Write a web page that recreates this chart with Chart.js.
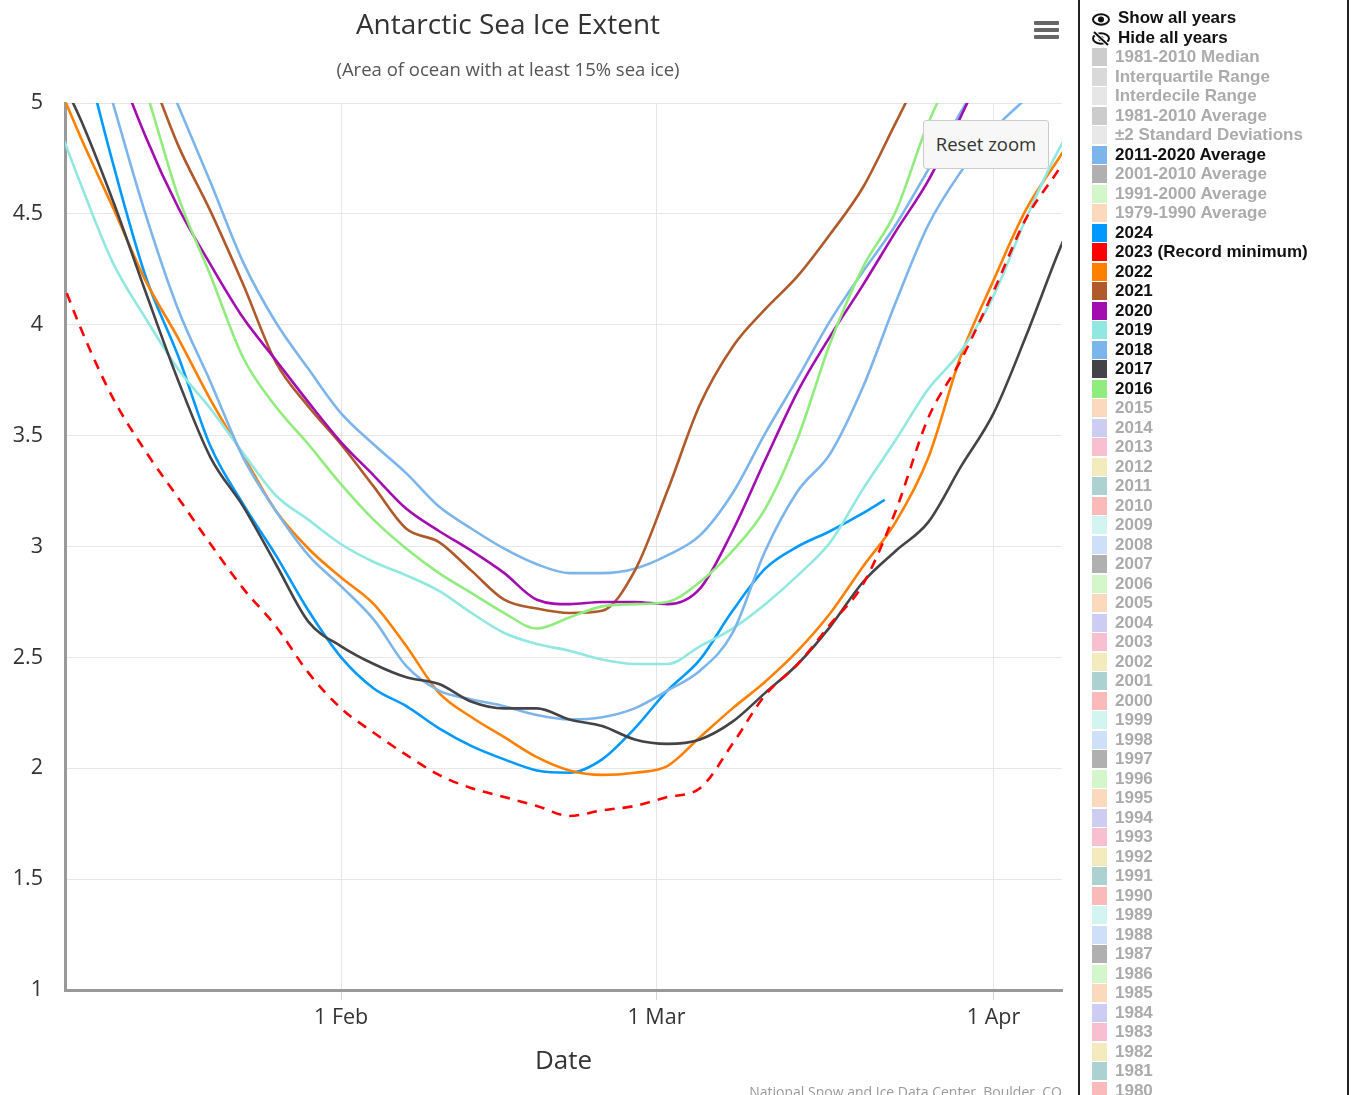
<!DOCTYPE html>
<html>
<head>
<meta charset="utf-8">
<script src="https://cdn.jsdelivr.net/npm/chart.js@4"></script>
<style>
  body { margin: 0; background: #fff; }
  #wrap { position: relative; width: 1362px; height: 1095px; overflow: hidden; background: #fff; font-family: "Open Sans", sans-serif; }
  #chart { position: absolute; left: 0; top: 0; }
  .title { position: absolute; left: 208px; width: 600px; top: 4px; text-align: center; font-size: 28px; color: #333; }
  .subtitle { position: absolute; left: 208px; width: 600px; top: 56px; text-align: center; font-size: 18.5px; color: #555; }
  .menu { position: absolute; left: 1034px; top: 21px; width: 25px; }
  .menu span { display: block; height: 3.5px; background: #666; margin-bottom: 3.5px; border-radius: 1px; }
  .reset { position: absolute; left: 923px; top: 120px; width: 126px; height: 49px; background: #f7f7f7; border: 1px solid #ccc; border-radius: 3px; box-sizing: border-box; text-align: center; line-height: 46px; font-size: 18.5px; color: #333; }
  .credits { position: absolute; right: 300px; top: 1082px; font-size: 14px; color: #999; }
  #legend { position: absolute; left: 1078px; top: 0; width: 267px; height: 1095px; border-left: 2px solid #222; border-right: 2px solid #222; font-family: "Liberation Sans", Arial, sans-serif; font-weight: bold; font-size: 17px; }
  .row { position: absolute; left: 0; height: 20px; line-height: 20px; white-space: nowrap; }
  .sw { position: absolute; left: 12px; top: 1px; width: 15px; height: 18px; }
  .lbl { position: absolute; left: 35px; top: 0; }
  .off { color: #ababab; }
  .on { color: #111; }
  .icon { position: absolute; left: 12px; top: 3px; }
</style>
</head>
<body>
<div id="wrap">
  <canvas id="chart" width="1078" height="1095"></canvas>
  <div class="title">Antarctic Sea Ice Extent</div>
  <div class="subtitle">(Area of ocean with at least 15% sea ice)</div>
  <div class="menu"><span></span><span></span><span></span></div>
  <div class="reset">Reset zoom</div>
  <div class="credits">National Snow and Ice Data Center, Boulder, CO</div>
  <div id="legend"></div>
</div>
<script>
// day of year (1 = 1 Jan, leap year)
const days = [5, 8, 11, 14, 17, 20, 23, 26, 29, 32, 35, 38, 41, 44, 47, 50, 53, 56, 59, 62, 65, 68, 71, 74, 77, 80, 83, 86, 89, 92, 95, 98, 100];
const days2024 = [5, 8, 11, 14, 17, 20, 23, 26, 29, 32, 35, 38, 41, 44, 47, 50, 53, 56, 59, 62, 65, 68, 71, 74, 77, 80, 82];

const tickDays = [32, 61, 92];
const tickLabels = ['1 Feb', '1 Mar', '1 Apr'];

// extent in millions of square kilometres
const ext2024 = [5.95, 5.31, 4.73, 4.22, 3.86, 3.45, 3.19, 2.96, 2.71, 2.50, 2.36, 2.28, 2.18, 2.10, 2.04, 1.99, 1.98, 2.04, 2.18, 2.35, 2.49, 2.71, 2.90, 3.00, 3.07, 3.15, 3.21];
const ext2023 = [4.37, 3.99, 3.67, 3.43, 3.22, 3.01, 2.81, 2.64, 2.43, 2.27, 2.16, 2.06, 1.97, 1.91, 1.87, 1.83, 1.785, 1.81, 1.83, 1.87, 1.91, 2.11, 2.33, 2.47, 2.65, 2.83, 3.16, 3.58, 3.84, 4.15, 4.48, 4.70, 4.86];
const ext2022 = [5.2, 4.85, 4.53, 4.20, 3.94, 3.66, 3.41, 3.16, 2.99, 2.86, 2.74, 2.55, 2.34, 2.23, 2.14, 2.05, 1.99, 1.97, 1.98, 2.01, 2.14, 2.27, 2.39, 2.53, 2.70, 2.91, 3.11, 3.40, 3.86, 4.20, 4.52, 4.75, 4.90];
const ext2021 = [6.3, 5.95, 5.55, 5.19, 4.81, 4.51, 4.18, 3.83, 3.63, 3.46, 3.27, 3.08, 3.02, 2.89, 2.76, 2.72, 2.70, 2.71, 2.89, 3.25, 3.64, 3.90, 4.07, 4.22, 4.41, 4.62, 4.91, 5.2, 5.45, 5.65, 5.8, 5.95, 6.0];
const ext2020 = [6.1, 5.75, 5.24, 4.85, 4.53, 4.27, 4.03, 3.84, 3.65, 3.47, 3.32, 3.17, 3.07, 2.98, 2.88, 2.76, 2.74, 2.75, 2.75, 2.74, 2.81, 3.07, 3.39, 3.70, 3.95, 4.18, 4.42, 4.65, 4.94, 5.25, 5.5, 5.7, 5.8];
const ext2019 = [5.03, 4.64, 4.28, 4.03, 3.80, 3.62, 3.42, 3.23, 3.12, 3.01, 2.93, 2.87, 2.80, 2.70, 2.61, 2.56, 2.53, 2.49, 2.47, 2.47, 2.55, 2.63, 2.74, 2.87, 3.02, 3.26, 3.48, 3.71, 3.88, 4.13, 4.48, 4.79, 4.95];
const ext2018 = [6.0, 5.5, 5.00, 4.50, 4.07, 3.74, 3.40, 3.16, 2.96, 2.82, 2.67, 2.46, 2.35, 2.31, 2.28, 2.24, 2.22, 2.23, 2.27, 2.35, 2.44, 2.61, 2.98, 3.25, 3.42, 3.72, 4.10, 4.45, 4.69, 4.88, 5.02, 5.15, 5.2];
const ext2017 = [5.23, 4.93, 4.56, 4.15, 3.75, 3.40, 3.18, 2.92, 2.66, 2.55, 2.47, 2.41, 2.38, 2.30, 2.27, 2.27, 2.22, 2.19, 2.13, 2.11, 2.13, 2.21, 2.34, 2.47, 2.64, 2.84, 2.98, 3.11, 3.36, 3.60, 3.95, 4.33, 4.56];
const ext2016 = [6.3, 5.9, 5.45, 5.06, 4.58, 4.22, 3.85, 3.63, 3.46, 3.28, 3.12, 2.99, 2.88, 2.79, 2.70, 2.63, 2.68, 2.73, 2.74, 2.75, 2.84, 2.98, 3.17, 3.49, 3.92, 4.26, 4.51, 4.91, 5.2, 5.4, 5.6, 5.75, 5.85];
const avg2011_2020 = [6.5, 6.1, 5.73, 5.35, 4.99, 4.64, 4.28, 4.01, 3.80, 3.60, 3.46, 3.33, 3.18, 3.08, 2.99, 2.92, 2.88, 2.88, 2.90, 2.96, 3.05, 3.24, 3.51, 3.76, 4.02, 4.24, 4.45, 4.70, 4.96, 5.2, 5.4, 5.6, 5.7];

// legend entries
const statNames = ['1981-2010 Median', 'Interquartile Range', 'Interdecile Range', '1981-2010 Average', '\u00b12 Standard Deviations'];
const statColors = ['#cccccc', '#d9d9d9', '#e6e6e6', '#cccccc', '#e8e8e8'];
const avgNames = ['2011-2020 Average', '2001-2010 Average', '1991-2000 Average', '1979-1990 Average'];
const avgColors = ['#7cb5ec', '#b0b0b0', '#d3f7cb', '#fcd9bd'];
const avgShown = [true, false, false, false];
const shownYears = ['2024', '2023 (Record minimum)', '2022', '2021', '2020', '2019', '2018', '2017', '2016'];
const shownColors = ['#0099ff', '#ff0000', '#ff8000', '#b0592a', '#a30cb0', '#91e8e1', '#7cb5ec', '#434348', '#90ed7d'];
const hiddenColors = ['#fcd9bd', '#cdcdf3', '#f7bfcf', '#f3eabd', '#abd2d0', '#fbbaba', '#d3f5f2', '#cde0f7', '#b0b0b0', '#d3f7cb'];

function pts(xs, ys) {
    return xs.map((d, i) => ({ x: d, y: ys[i] }));
}

function line(label, xs, ys, color, extra) {
    return Object.assign({
        label: label,
        data: pts(xs, ys),
        borderColor: color,
        backgroundColor: color,
        borderWidth: 2.6,
        pointRadius: 0,
        fill: false,
        cubicInterpolationMode: 'monotone'
    }, extra || {});
}

const datasets = [
    line('2023', days, ext2023, '#ff0000', { borderDash: [10, 8] }),
    line('2016', days, ext2016, '#90ed7d'),
    line('2017', days, ext2017, '#434348'),
    line('2018', days, ext2018, '#7cb5ec'),
    line('2019', days, ext2019, '#91e8e1'),
    line('2020', days, ext2020, '#a30cb0'),
    line('2021', days, ext2021, '#b0592a'),
    line('2022', days, ext2022, '#ff8000'),
    line('2024', days2024, ext2024, '#0099ff'),
    line('2011-2020 Average', days, avg2011_2020, '#7cb5ec')
];

const tickFont = { family: '"Open Sans", sans-serif', size: 21.5 };

const ctx = document.getElementById('chart').getContext('2d');
const chart = new Chart(ctx, {
    type: 'line',
    data: { datasets: datasets },
    options: {
        responsive: false,
        animation: false,
        layout: { padding: { top: 103, right: 16, left: 0, bottom: 0 } },
        plugins: { legend: { display: false }, tooltip: { enabled: false } },
        scales: {
            x: {
                type: 'linear',
                min: 6.6,
                max: 98.3,
                afterBuildTicks: (scale) => { scale.ticks = tickDays.map(v => ({ value: v })); },
                afterFit: (scale) => { scale.height = 105; },
                ticks: {
                    callback: (v) => tickLabels[tickDays.indexOf(v)],
                    font: tickFont,
                    color: '#333',
                    padding: 5,
                    maxRotation: 0
                },
                grid: { color: '#e6e6e6', tickColor: '#ccd6eb', tickLength: 10, lineWidth: 1 },
                border: { color: '#999', width: 3 },
                title: { display: true, text: 'Date', color: '#333', font: { family: '"Open Sans", sans-serif', size: 26 }, padding: { top: 0, bottom: 18 } }
            },
            y: {
                min: 1,
                max: 5,
                afterFit: (scale) => { scale.width = 65; },
                ticks: { stepSize: 0.5, font: tickFont, color: '#333', padding: 22, callback: (v) => String(v) },
                grid: { color: '#e6e6e6', drawTicks: false, lineWidth: 1 },
                border: { color: '#999', width: 3 }
            }
        }
    }
});

// legend panel
const legend = document.getElementById('legend');
const rows = [];
rows.push({ icon: 'show', text: 'Show all years', on: true });
rows.push({ icon: 'hide', text: 'Hide all years', on: true });
statNames.forEach((n, i) => rows.push({ color: statColors[i], text: n, on: false }));
avgNames.forEach((n, i) => rows.push({ color: avgColors[i], text: n, on: avgShown[i] }));
shownYears.forEach((n, i) => rows.push({ color: shownColors[i], text: n, on: true }));
for (let y = 2015, k = 0; y >= 1980; y--, k++) {
    rows.push({ color: hiddenColors[k % hiddenColors.length], text: String(y), on: false });
}

const eyeSvg = '<svg width="18" height="13" viewBox="0 0 18 13"><ellipse cx="9" cy="6.5" rx="8" ry="5.2" fill="none" stroke="#111" stroke-width="2"/><circle cx="9" cy="6.5" r="3" fill="#111"/></svg>';
const eyeOffSvg = '<svg width="18" height="15" viewBox="0 0 18 15"><ellipse cx="9" cy="7.5" rx="8" ry="5.2" fill="none" stroke="#111" stroke-width="2"/><circle cx="9" cy="7.5" r="2.6" fill="#111"/><line x1="2" y1="1" x2="16" y2="14" stroke="#fff" stroke-width="4"/><line x1="2" y1="1" x2="16" y2="14" stroke="#111" stroke-width="2"/></svg>';

rows.forEach((r, i) => {
    const div = document.createElement('div');
    div.className = 'row';
    div.style.top = (8 + i * 19.5) + 'px';
    div.style.width = '260px';
    let html = '';
    if (r.icon) {
        html += '<span class="icon">' + (r.icon === 'show' ? eyeSvg : eyeOffSvg) + '</span>';
        html += '<span class="lbl on" style="left:38px">' + r.text + '</span>';
    } else {
        html += '<span class="sw" style="background:' + r.color + '"></span>';
        html += '<span class="lbl ' + (r.on ? 'on' : 'off') + '">' + r.text + '</span>';
    }
    div.innerHTML = html;
    legend.appendChild(div);
});
</script>
</body>
</html>
